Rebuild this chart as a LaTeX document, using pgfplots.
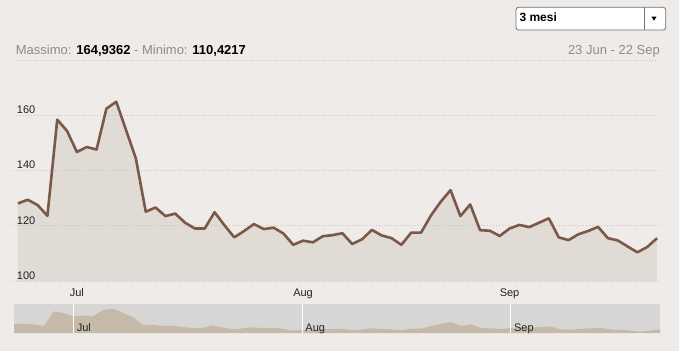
\documentclass[border=0pt]{standalone}
\usepackage{pgfplots}
\pgfplotsset{compat=1.18}
\usepackage{pgfplotstable}
\usepackage{fontspec}
\setmainfont{Liberation Sans}
\definecolor{bg}{HTML}{EEEBE8}
\definecolor{linec}{HTML}{7A5949}
\definecolor{areac}{HTML}{E0DBD5}
\definecolor{gridc}{HTML}{C6C2BE}
\definecolor{navbg}{HTML}{D7D6D5}
\definecolor{navarea}{HTML}{C5BAAA}
\definecolor{txtgray}{HTML}{8C8C8C}
\definecolor{txtdark}{HTML}{222222}

\pgfplotstableread{
i v
0 128.1
1 129.4
2 127.5
3 123.6
4 158.4
5 154.3
6 146.7
7 148.5
8 147.6
9 162.4
10 164.9
11 154.6
12 144.3
13 125.1
14 126.6
15 123.5
16 124.4
17 121.1
18 119.0
19 119.0
20 124.9
21 120.2
22 115.8
23 118.1
24 120.6
25 118.8
26 119.3
27 117.2
28 113.1
29 114.6
30 114.0
31 116.2
32 116.6
33 117.3
34 113.4
35 115.1
36 118.5
37 116.5
38 115.5
39 113.1
40 117.5
41 117.5
42 123.7
43 128.7
44 132.9
45 123.5
46 127.7
47 118.4
48 118.2
49 116.3
50 119.0
51 120.3
52 119.5
53 121.1
54 122.7
55 115.8
56 114.8
57 116.9
58 118.1
59 119.6
60 115.5
61 114.7
62 112.5
63 110.4
64 112.3
65 115.5
}\data

\pgfplotsset{mainax/.style={
  at={(13bp,70bp)}, anchor=south west, scale only axis,
  width=646bp, height=221bp,
  xmin=-0.5, xmax=65.2, ymin=100, ymax=180,
  axis line style={draw=none}, major tick length=0}}

\begin{document}
\begin{tikzpicture}[x=1bp,y=1bp]
\path[use as bounding box, fill=bg] (0,0) rectangle (679,351);
% header
\node[anchor=base west, inner sep=0, font=\fontsize{13bp}{15bp}\selectfont] at (15.7,296.7)
  {\textcolor{txtgray}{Massimo:} \textbf{164,9362} \textcolor{txtgray}{- Minimo:} \textbf{110,4217}};
\node[anchor=base east, inner sep=0, text=txtgray, font=\fontsize{13bp}{15bp}\selectfont] at (660,296.7)
  {23 Jun - 22 Sep};
% dropdown
\draw[draw=black!55, fill=white, rounded corners=2.5bp, line width=0.8bp] (516,321) rectangle (665.7,343.7);
\draw[black!55, line width=0.8bp] (644.3,321) -- (644.3,343.7);
\node[anchor=base west, inner sep=0, font=\bfseries\fontsize{12bp}{14bp}\selectfont] at (519.3,329.3) {3 mesi};
\fill (651.5,334.3) -- (656.5,334.3) -- (654,330.3) -- cycle;

% area fill (underneath grid and labels)
\begin{axis}[mainax, xtick=\empty, ytick=\empty]
\addplot[fill=areac, draw=none] table[x=i,y=v]{\data} \closedcycle;
\end{axis}

\begin{axis}[mainax,
  ytick={100,120,140,160,180}, yticklabels={100,120,140,160,{}},
  ymajorgrids, grid style={gridc, line width=0.8bp, dash pattern=on 1bp off 2bp},
  xtick={6,29,50}, xticklabels={Jul,Aug,Sep},
  tick label style={font=\fontsize{11bp}{13bp}\selectfont, text=txtdark},
  yticklabel style={anchor=base west, inner sep=0pt, xshift=3.7bp, yshift=1.7bp},
  xticklabel style={anchor=base, inner sep=0pt, yshift=-15.7bp},
]
\addplot[linec, line width=2.6bp, line join=round] table[x=i,y=v]{\data};
\end{axis}

\begin{axis}[
  at={(14bp,18bp)}, anchor=south west, scale only axis,
  width=646bp, height=29bp,
  xmin=0, xmax=65, ymin=107, ymax=176,
  axis line style={draw=none}, major tick length=0,
  ytick=\empty, xtick={6,29,50}, xticklabels={Jul,Aug,Sep},
  xmajorgrids, grid style={white, line width=0.9bp},
  axis background/.style={fill=navbg},
  axis on top,
  xticklabel style={anchor=base west, inner sep=0pt, xshift=3bp, yshift=2bp,
    font=\fontsize{11bp}{13bp}\selectfont, text=txtdark},
]
\addplot[fill=navarea, draw=none] table[x=i,y=v]{\data} \closedcycle;
\end{axis}
\end{tikzpicture}
\end{document}
